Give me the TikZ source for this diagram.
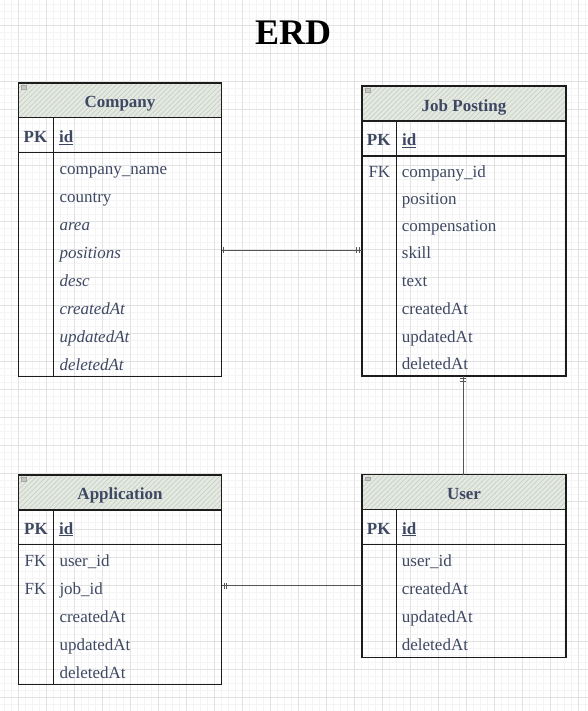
\documentclass[tikz,border=0pt]{standalone}
\usepackage{fontspec}
\setmainfont{Liberation Serif}
\usetikzlibrary{patterns.meta}
\definecolor{txt}{RGB}{62,72,98}
\definecolor{hdrfill}{RGB}{228,233,225}
\definecolor{hatch}{RGB}{200,208,197}
\definecolor{edge}{RGB}{28,28,28}
\definecolor{gridmaj}{RGB}{226,226,226}
\definecolor{gridmin}{RGB}{244,244,244}
\definecolor{conn}{RGB}{85,85,85}
\begin{document}
\begin{tikzpicture}[x=1pt,y=-1pt,
  tbl/.style={draw=edge,line width=1.2pt,inner sep=0pt,outer sep=0pt,anchor=north west},
  hdr/.style={draw=edge,line width=1.2pt,inner sep=0pt,outer sep=0pt,anchor=north west,
    preaction={fill=hdrfill},pattern={Lines[angle=45,distance=3.5pt,line width=0.7pt]},pattern color=hatch},
  sep/.style={draw=edge,line width=1.2pt},
  htitle/.style={anchor=base,inner sep=0pt,text=txt,font=\fontsize{17}{20}\selectfont\bfseries},
  fld/.style={anchor=base west,inner sep=0pt,text=txt,font=\fontsize{17}{20}\selectfont},
  ifld/.style={fld,font=\fontsize{17}{20}\selectfont\itshape},
  keyb/.style={fld,font=\fontsize{17}{20}\selectfont\bfseries},
  conline/.style={draw=conn,line width=1pt},
  tick/.style={draw=conn,line width=0.9pt},
  mini/.style={draw=gray!70,fill=gray!45,line width=0.4pt}
]
\useasboundingbox (0,0) rectangle (588,711);
% grid
\foreach \x in {4,11,...,588} \draw[gridmin,line width=0.5pt] (\x,0) -- (\x,711);
\foreach \y in {4,11,...,711} \draw[gridmin,line width=0.5pt] (0,\y) -- (588,\y);
\foreach \x in {18,46,...,588} \draw[gridmaj,line width=0.7pt] (\x,0) -- (\x,711);
\foreach \y in {25,53,...,711} \draw[gridmaj,line width=0.7pt] (0,\y) -- (588,\y);

% title
\node[anchor=base,inner sep=0pt,font=\fontsize{36}{40}\selectfont\bfseries] (title) at (293,44.5) {ERD};

% ---------- Company ----------
\node[tbl,minimum width=203.5pt,minimum height=293.5pt] (company) at (18.3,83) {};
\node[hdr,minimum width=203.5pt,minimum height=34.7pt] (company-h) at (18.3,83) {};
\draw[mini] (21,85.5) rectangle (26.5,89);
\node[htitle] (company-t) at (120,107.5) {Company};
\draw[sep] (company.west |- 0,152.5) -- (company.east |- 0,152.5);
\draw[sep] (company-h.south -| 53.5,0) -- (company.south -| 53.5,0);
\node[keyb] (company-pk) at (23.5,142.5) {PK};
\node[keyb] (company-id) at (59,142.5) {\underline{id}};
\node[fld] (company-f1) at (59.3,174.5) {company\_name};
\node[fld] (company-f2) at (59.3,202.5) {country};
\node[ifld] (company-f3) at (59.3,230.5) {area};
\node[ifld] (company-f4) at (59.3,258.5) {positions};
\node[ifld] (company-f5) at (59.3,286.5) {desc};
\node[ifld] (company-f6) at (59.3,314.5) {createdAt};
\node[ifld] (company-f7) at (59.3,342.5) {updatedAt};
\node[ifld] (company-f8) at (59.3,370.5) {deletedAt};

% ---------- Job Posting ----------
\node[tbl,minimum width=204pt,minimum height=290pt] (job) at (362,86) {};
\node[hdr,minimum width=204pt,minimum height=35pt] (job-h) at (362,86) {};
\draw[mini] (365,88.5) rectangle (370.5,92);
\node[htitle] (job-t) at (464,111.5) {Job Posting};
\draw[sep] (job.west |- 0,156) -- (job.east |- 0,156);
\draw[sep] (job-h.south -| 396.5,0) -- (job.south -| 396.5,0);
\node[keyb] (job-pk) at (366.7,146) {PK};
\node[keyb] (job-id) at (402,146) {\underline{id}};
\node[fld] (job-fk) at (368.3,177.5) {FK};
\node[fld] (job-f1) at (401.7,177.5) {company\_id};
\node[fld] (job-f2) at (401.7,204.5) {position};
\node[fld] (job-f3) at (401.7,231) {compensation};
\node[fld] (job-f4) at (401.7,258.5) {skill};
\node[fld] (job-f5) at (401.7,286.5) {text};
\node[fld] (job-f6) at (401.7,314.5) {createdAt};
\node[fld] (job-f7) at (401.7,342) {updatedAt};
\node[fld] (job-f8) at (401.7,369.5) {deletedAt};

% ---------- Application ----------
\node[tbl,minimum width=203.5pt,minimum height=209.5pt] (app) at (18.3,475) {};
\node[hdr,minimum width=203.5pt,minimum height=35pt] (app-h) at (18.3,475) {};
\draw[mini] (21,477.5) rectangle (26.5,481);
\node[htitle] (app-t) at (120,499.5) {Application};
\draw[sep] (app.west |- 0,544.5) -- (app.east |- 0,544.5);
\draw[sep] (app-h.south -| 53.5,0) -- (app.south -| 53.5,0);
\node[keyb] (app-pk) at (24,534) {PK};
\node[keyb] (app-id) at (59,534) {\underline{id}};
\node[fld] (app-fk1) at (24.5,566.5) {FK};
\node[fld] (app-fk2) at (24.5,594.5) {FK};
\node[fld] (app-f1) at (59.3,566.5) {user\_id};
\node[fld] (app-f2) at (59.3,594.5) {job\_id};
\node[fld] (app-f3) at (59.3,622.5) {createdAt};
\node[fld] (app-f4) at (59.3,650.5) {updatedAt};
\node[fld] (app-f5) at (59.3,678.5) {deletedAt};

% ---------- User ----------
\node[tbl,minimum width=204pt,minimum height=182.5pt] (user) at (362,474.7) {};
\node[hdr,minimum width=204pt,minimum height=35pt] (user-h) at (362,474.7) {};
\draw[mini] (365,477) rectangle (370.5,480.5);
\node[htitle] (user-t) at (464,499.3) {User};
\draw[sep] (user.west |- 0,544.5) -- (user.east |- 0,544.5);
\draw[sep] (user-h.south -| 396.5,0) -- (user.south -| 396.5,0);
\node[keyb] (user-pk) at (366.7,534) {PK};
\node[keyb] (user-id) at (402,534) {\underline{id}};
\node[fld] (user-f1) at (401.7,566.5) {user\_id};
\node[fld] (user-f2) at (401.7,594.5) {createdAt};
\node[fld] (user-f3) at (401.7,622.5) {updatedAt};
\node[fld] (user-f4) at (401.7,650.5) {deletedAt};

% ---------- connectors ----------
\coordinate (cj-a) at (company.east |- 0,250);
\coordinate (cj-b) at (job.west |- 0,250);
\draw[conline] (cj-a) -- (cj-b);
\draw[tick] ([xshift=2pt,yshift=3pt]cj-a) -- ([xshift=2pt,yshift=-3pt]cj-a);
\draw[tick] ([xshift=-3pt,yshift=3pt]cj-b) -- ([xshift=-3pt,yshift=-3pt]cj-b);
\draw[tick] ([xshift=-5.5pt,yshift=3pt]cj-b) -- ([xshift=-5.5pt,yshift=-3pt]cj-b);

\coordinate (ju-a) at (job.south -| 463,0);
\coordinate (ju-b) at (user.north -| 463,0);
\draw[conline] (ju-a) -- (ju-b);
\draw[tick] ([xshift=-3pt,yshift=-2.5pt]ju-a) -- ([xshift=3pt,yshift=-2.5pt]ju-a);
\draw[tick] ([xshift=-3pt,yshift=-5pt]ju-a) -- ([xshift=3pt,yshift=-5pt]ju-a);

\coordinate (au-a) at (app.east |- 0,585.5);
\coordinate (au-b) at (user.west |- 0,585.5);
\draw[conline] (au-a) -- (au-b);
\draw[tick] ([xshift=2.5pt,yshift=3pt]au-a) -- ([xshift=2.5pt,yshift=-3pt]au-a);
\draw[tick] ([xshift=5pt,yshift=3pt]au-a) -- ([xshift=5pt,yshift=-3pt]au-a);
\end{tikzpicture}
\end{document}
